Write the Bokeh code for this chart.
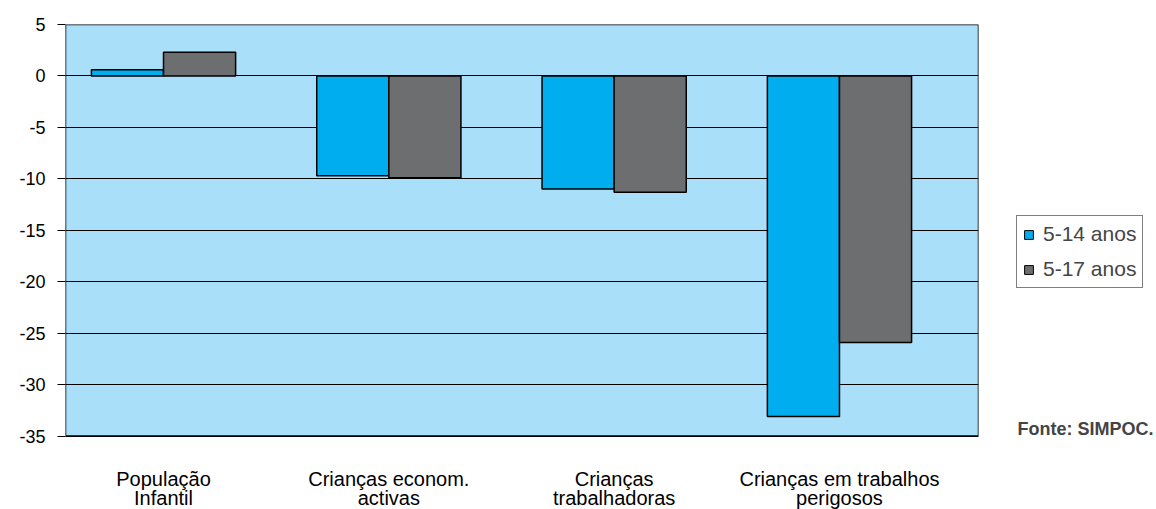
import numpy as np
from bokeh.plotting import figure
from bokeh.layouts import row
from bokeh.models import Range1d, FixedTicker, Legend, LegendItem, Label
from bokeh.core.properties import value
from bokeh.embed import file_html
from bokeh.resources import INLINE

categories = ["População\nInfantil", "Crianças econom.\nactivas", "Crianças\ntrabalhadoras", "Crianças em trabalhos\nperigosos"]
series_names = ["5-14 anos", "5-17 anos"]
v_5_14 = [0.6, -9.7, -11.0, -33.1]
v_5_17 = [2.3, -9.9, -11.3, -25.9]
y_ticks = [5, 0, -5, -10, -15, -20, -25, -30, -35]
source_note = "Fonte: SIMPOC."

FONT = "Liberation Sans"
COL_A = "#00AEEF"
COL_B = "#6D6E70"
BG = "#A9DFF9"
idx = np.arange(len(categories))
bw = 0.32

H = 509
TOP = 24
PLOT_BOTTOM_PX = 435.5
y_max, y_min = max(y_ticks), min(y_ticks)
px_per_unit = (PLOT_BOTTOM_PX - TOP) / (y_max - y_min)
y_start = y_max - (H - TOP) / px_per_unit
x0, x1 = -0.435, 3.617

p = figure(width=980, height=H, output_backend="svg", toolbar_location=None,
           x_range=Range1d(x0, x1), y_range=Range1d(y_start, y_max),
           min_border_left=65, min_border_right=2, min_border_top=TOP, min_border_bottom=0)
p.background_fill_color = "white"
p.border_fill_color = "white"
p.outline_line_color = None
p.xaxis.visible = False

# plot area background
p.quad(left=x0, right=x1, bottom=y_min, top=y_max, fill_color=BG, line_color=None, level="image")

p.vbar(x=idx - bw / 2, top=v_5_14, bottom=0, width=bw, fill_color=COL_A,
       line_color="black", line_width=1.5)
p.vbar(x=idx + bw / 2, top=v_5_17, bottom=0, width=bw, fill_color=COL_B,
       line_color="black", line_width=1.5)

# plot area border
p.quad(left=x0, right=x1, bottom=y_min, top=y_max, fill_color=None, line_color="black", line_width=1.5)

p.xgrid.grid_line_color = None
p.ygrid.grid_line_color = "black"
p.ygrid.grid_line_width = 1.2
p.ygrid.ticker = FixedTicker(ticks=y_ticks)

p.yaxis.ticker = FixedTicker(ticks=y_ticks)
p.yaxis.major_label_overrides = {t: str(t) for t in y_ticks}
p.yaxis.axis_line_color = None
p.yaxis.major_tick_line_color = "black"
p.yaxis.major_tick_out = 8
p.yaxis.major_tick_in = 0
p.yaxis.minor_tick_line_color = None
p.yaxis.major_label_text_font = FONT
p.yaxis.major_label_text_font_size = "18px"
p.yaxis.major_label_text_color = "black"
p.yaxis.major_label_standoff = 12

# category labels below the plot area
p.text(x=idx, y=[y_min] * len(idx), text=categories, y_offset=32,
       text_font=value(FONT), text_font_size="20px", text_color="black",
       text_align="center", text_baseline="top", text_line_height=0.85)

# side panel with legend and source note
s = figure(width=176, height=H, output_backend="svg", toolbar_location=None,
           x_range=Range1d(0, 1), y_range=Range1d(0, 1),
           min_border_left=0, min_border_right=0, min_border_top=0, min_border_bottom=0)
s.axis.visible = False
s.grid.visible = False
s.outline_line_color = None
s.background_fill_color = "white"
la = s.vbar(x=[-10], top=[-10], width=0.1, fill_color=COL_A, line_color="black")
lb = s.vbar(x=[-10], top=[-10], width=0.1, fill_color=COL_B, line_color="black")

legend = Legend(items=[LegendItem(label=series_names[0], renderers=[la]),
                       LegendItem(label=series_names[1], renderers=[lb])],
                location=(36, 221))
legend.border_line_color = "black"
legend.border_line_width = 1.2
legend.background_fill_alpha = 1
legend.label_text_font = FONT
legend.label_text_font_size = "21px"
legend.label_height = 22
legend.glyph_width = 11
legend.glyph_height = 11
legend.spacing = 11
legend.padding = 6
legend.margin = 0
legend.label_standoff = 9
s.add_layout(legend, "center")

s.add_layout(Label(x=37, y=81, x_units="screen", y_units="screen", text=source_note,
                   text_font=FONT, text_font_size="18px", text_font_style="bold",
                   text_baseline="alphabetic"))

layout = row(p, s, spacing=0)
open("out.html", "w").write(file_html(layout, INLINE))
